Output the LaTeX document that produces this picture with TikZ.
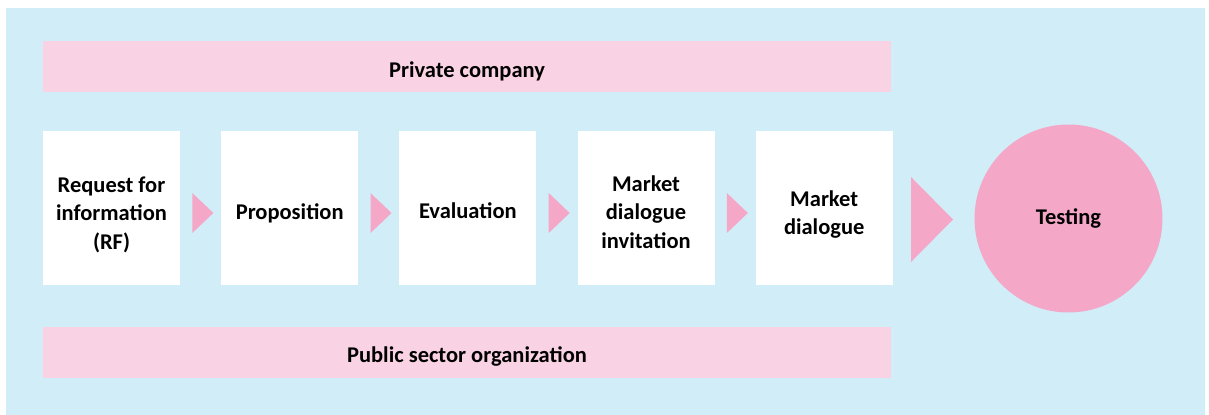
\documentclass[tikz,border=0pt]{standalone}
\usepackage{fontspec}
\setmainfont{Carlito}
\usetikzlibrary{positioning}
\usetikzlibrary{calc}

\definecolor{skyblue}{RGB}{208,237,248}
\definecolor{bandpink}{RGB}{249,210,228}
\definecolor{arrowpink}{RGB}{245,167,200}

% move a label down without changing its box
\newcommand{\lowered}[2]{\raisebox{-#1}[\height][\depth]{#2}}
\newcommand{\lines}[1]{\begin{tabular}{@{}c@{}}#1\end{tabular}}

\tikzset{
  label text/.style={font=\bfseries\fontsize{12.8}{16.2}\selectfont, text=black, align=center},
  band/.style={label text, fill=bandpink, minimum width=16.96cm, minimum height=1.02cm, inner sep=0pt},
  stepbox/.style={label text, fill=white, minimum width=2.74cm, minimum height=3.08cm, inner sep=0pt},
  pointer/.style={fill=arrowpink}
}

\begin{document}
\begin{tikzpicture}[x=0.02cm, y=-0.02cm]
  \useasboundingbox (0,0) rectangle (1209,415);
  % background
  \fill[skyblue] (6,8) rectangle (1205,415);

  % the two parties
  \node[band] (company) at (467,66.5) {\lowered{2.8pt}{Private company}};
  \node[band] (public) at (467,352.5) {\lowered{2.3pt}{Public sector organization}};

  % process steps
  \node[stepbox] (s1) at (111.5,208) {\lowered{4pt}{\lines{Request for\\information\\(RF)}}};
  \node[stepbox, right=0.81cm of s1] (s2) {\lowered{2.8pt}{Proposition}};
  \node[stepbox, right=0.81cm of s2] (s3) {\lowered{1.7pt}{Evaluation}};
  \node[stepbox, right=0.81cm of s3] (s4) {\lowered{3.5pt}{\lines{Market\\dialogue\\invitation}}};
  \node[stepbox, right=0.81cm of s4] (s5) {\lowered{4pt}{\lines{Market\\dialogue}}};

  \node[circle, fill=arrowpink, minimum size=3.76cm, inner sep=0pt, label text] (testing) at (1068.5,218.5) {Testing};

  % small pointers between the steps
  \foreach \a/\b in {s1/s2, s2/s3, s3/s4, s4/s5}
    {\fill[pointer] ($(\a.east)+(12,-15)$) -- ++(21,20) -- ++(-21,20) -- cycle;}

  % big pointer to the testing
  \fill[pointer] ($(s5.east)+(18,-31)$) -- ++(42,42.5) -- ++(-42,42.5) -- cycle;
\end{tikzpicture}
\end{document}
